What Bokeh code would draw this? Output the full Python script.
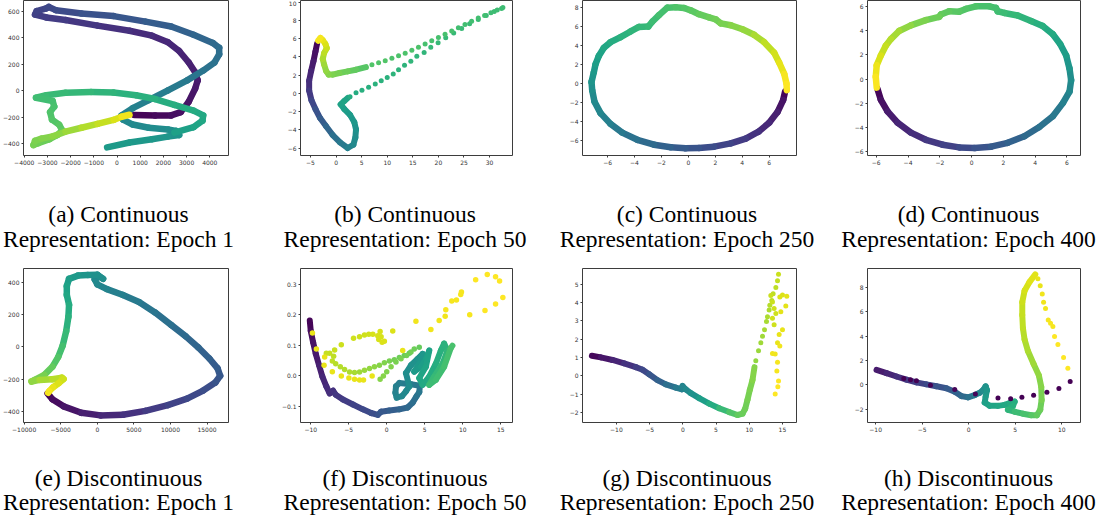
import math
from bokeh.plotting import figure
from bokeh.models import FixedTicker
from bokeh.core.properties import value
from bokeh.layouts import row, column
from bokeh.palettes import Viridis256
from bokeh.embed import file_html
from bokeh.resources import INLINE

NaN = float("nan")

# ---------------- (a) Continuous, Epoch 1 ----------------
a_x = [746, 1643, 2334, 2748, 3094, 3370, 3480, 3370, 3094, 2679, 2196, 1505, 539, -842, -2223, -3052, -3535, -3466, -3052, -2941,
       -2638, -1533, -152, 1229, 2334, 3301, 4129, 4405, 4405, 4198, 3715, 3024, 2196, 1367, 677, 193, 262, 677, 1367, 2196,
       2541, 2679, 2196, 1505, 539, -428, NaN, 2472, 3301, 3687, 3715, 3301, 2472, 1643, 815, -152, -1119, -2223, -3052, -3494,
       -2776, -2707, -2886, -2803, -2500, -2362, -2569, -2914, -3397, -3604, -3535, -3259, -2776, -2223, -1533, -842, -152, 193, 539]
a_y = [-185, -188, -188, -163, -84, 15, 77, 138, 212, 299, 365, 415, 452, 491, 533, 553, 575, 600, 622, 632,
       608, 583, 563, 521, 484, 422, 360, 323, 274, 212, 151, 77, 2, -72, -133, -188, -220, -257, -281, -294,
       -306, -336, -348, -368, -393, -430, NaN, -318, -277, -227, -188, -151, -109, -64, -35, -15, -10, -17, -35, -54,
       -79, -121, -163, -220, -257, -301, -336, -368, -398, -412, -380, -363, -346, -311, -281, -252, -222, -198, -183]
a_t = [0.0, 0.02, 0.03, 0.04, 0.05, 0.06, 0.07, 0.08, 0.09, 0.10, 0.11, 0.12, 0.13, 0.15, 0.17, 0.18, 0.19, 0.20, 0.21, 0.215,
       0.22, 0.24, 0.26, 0.28, 0.30, 0.32, 0.34, 0.35, 0.36, 0.37, 0.38, 0.40, 0.42, 0.43, 0.44, 0.45, 0.46, 0.47, 0.48, 0.49,
       0.50, 0.51, 0.52, 0.53, 0.54, 0.55, NaN, 0.56, 0.58, 0.59, 0.60, 0.61, 0.62, 0.63, 0.64, 0.65, 0.66, 0.67, 0.68, 0.69,
       0.70, 0.71, 0.72, 0.73, 0.74, 0.75, 0.76, 0.77, 0.78, 0.79, 0.80, 0.81, 0.82, 0.84, 0.87, 0.90, 0.93, 0.96, 1.0]
a_xticks = [-4000, -3000, -2000, -1000, 0, 1000, 2000, 3000, 4000]
a_xlabels = ["\u22124000", "\u22123000", "\u22122000", "\u22121000", "0", "1000", "2000", "3000", "4000"]
a_yticks = [-400, -200, 0, 200, 400, 600]
a_ylabels = ["\u2212400", "\u2212200", "0", "200", "400", "600"]

# ---------------- (b) Continuous, Epoch 50 ----------------
b_x = [-3.70, -4.03, -4.42, -4.87, -5.26, -5.26, -4.81, -4.03, -3.12, -1.95, -0.65, 0.78, 2.27, 3.38, 3.77, 3.90, 3.57, 2.73, 1.62, 0.91, 1.62, 2.27]
b_y = [5.48, 4.59, 3.52, 2.46, 1.39, 0.32, -0.75, -1.71, -2.70, -3.59, -4.56, -5.37, -5.98, -5.62, -4.84, -3.95, -3.17, -2.35, -1.71, -1.21, -0.82, -0.50]
b_t = [0.0, 0.03, 0.06, 0.09, 0.12, 0.15, 0.19, 0.23, 0.27, 0.31, 0.35, 0.39, 0.43, 0.46, 0.48, 0.50, 0.52, 0.54, 0.56, 0.57, 0.58, 0.59]
b_dx = [2.73, 3.90, 5.06, 6.36, 7.66, 8.83, 10.0, 11.17, 12.21, 13.38, 14.61, 15.78, 17.21, 18.51, 19.94, 21.43, 22.99, 24.55, 26.10, 27.79, 29.35, 30.91, 32.34,
        32.60, 31.49, 30.26, 29.03, 27.79, 26.49, 25.19, 23.90, 22.60, 21.30, 20.0, 18.70, 17.40, 16.10, 14.81, 13.51, 12.21, 10.91, 9.61, 8.31, 7.01]
b_dy = [-0.36, 0.07, 0.36, 0.68, 1.03, 1.39, 1.74, 2.14, 2.60, 3.10, 3.52, 4.06, 4.48, 5.05, 5.55, 6.09, 6.62, 7.12, 7.62, 8.11, 8.54, 8.97, 9.29,
        9.40, 9.15, 8.83, 8.54, 8.26, 7.90, 7.54, 7.19, 6.83, 6.48, 6.12, 5.77, 5.41, 5.05, 4.73, 4.41, 4.13, 3.84, 3.59, 3.35, 3.13]
b_dt = [0.62, 0.62, 0.63, 0.63, 0.64, 0.64, 0.64, 0.65, 0.65, 0.65, 0.66, 0.66, 0.66, 0.67, 0.67, 0.67, 0.67, 0.68, 0.68, 0.68, 0.68, 0.69, 0.69,
        0.69, 0.69, 0.69, 0.70, 0.70, 0.70, 0.70, 0.70, 0.71, 0.71, 0.71, 0.71, 0.71, 0.72, 0.72, 0.72, 0.72, 0.72, 0.73, 0.73, 0.73]
b2_x = [5.84, 3.90, 2.27, 0.65, -0.65, -1.43, -1.95, -2.34, -2.60, -2.34, -1.82, -2.08, -2.60, -3.05, -3.51]
b2_y = [2.88, 2.60, 2.42, 2.24, 2.06, 2.06, 2.46, 3.17, 3.77, 4.41, 4.95, 5.41, 5.84, 6.09, 5.77]
b2_t = [0.73, 0.75, 0.77, 0.79, 0.80, 0.81, 0.83, 0.85, 0.87, 0.89, 0.91, 0.93, 0.96, 0.98, 1.0]
b_xticks = [-5, 0, 5, 10, 15, 20, 25, 30]
b_xlabels = ["\u22125", "0", "5", "10", "15", "20", "25", "30"]
b_yticks = [-6, -4, -2, 0, 2, 4, 6, 8, 10]
b_ylabels = ["\u22126", "\u22124", "\u22122", "0", "2", "4", "6", "8", "10"]

# ---------------- (c) Continuous, Epoch 250 ----------------
c_x = [7.19, 7.04, 6.62, 6.0, 5.21, 4.26, 3.15, 1.91, 0.79, -0.20, -1.31, -2.55, -3.79, -4.91, -5.78, -6.52, -6.97, -7.14, -7.19, -7.02,
       -6.89, -6.65, -6.27, -5.78, -5.03, -4.29, -3.67, -2.98, -2.68, -2.18, -1.56, -0.94, -0.32, 0.17, 0.79, 1.54, 2.03, 2.41, 3.15, 4.02,
       4.88, 5.63, 6.37, 6.74, 7.12, 7.29, 7.31]
c_y = [-0.82, -1.75, -3.01, -4.14, -5.07, -5.79, -6.30, -6.64, -6.78, -6.82, -6.71, -6.44, -5.92, -5.17, -4.25, -3.12, -1.92, -0.72, 0.14, 1.16,
       2.02, 2.88, 3.73, 4.32, 4.86, 5.45, 5.92, 5.96, 6.47, 7.16, 7.95, 7.98, 7.91, 7.67, 7.26, 6.92, 6.71, 6.30, 6.10, 5.68,
       5.10, 4.32, 3.22, 2.19, 0.99, -0.03, -0.72]
c_t = [0.0, 0.03, 0.07, 0.10, 0.13, 0.16, 0.19, 0.22, 0.25, 0.27, 0.30, 0.33, 0.36, 0.39, 0.42, 0.45, 0.47, 0.49, 0.51, 0.53,
       0.55, 0.57, 0.59, 0.61, 0.63, 0.65, 0.66, 0.67, 0.68, 0.70, 0.71, 0.72, 0.73, 0.74, 0.76, 0.77, 0.78, 0.79, 0.81, 0.83,
       0.86, 0.89, 0.92, 0.95, 0.98, 1.0, 1.0]
c_xticks = [-6, -4, -2, 0, 2, 4, 6]
c_xlabels = ["\u22126", "\u22124", "\u22122", "0", "2", "4", "6"]
c_yticks = [-6, -4, -2, 0, 2, 4, 6, 8]
c_ylabels = ["\u22126", "\u22124", "\u22122", "0", "2", "4", "6", "8"]

# ---------------- (d) Continuous, Epoch 400 ----------------
d_x = [-5.92, -5.71, -5.29, -4.66, -3.82, -2.88, -1.83, -0.78, 0.17, 1.22, 2.27, 3.32, 4.26, 5.11, 5.74, 6.16, 6.26, 6.16, 5.95, 5.57,
       5.11, 4.47, 3.74, 2.90, 2.06, 1.64, 1.53, 1.11, 0.27, -0.36, -0.78, -1.41, -1.93, -2.04, -2.88, -3.82, -4.56, -5.08, -5.40, -5.71,
       -5.97, -6.03, -5.97]
d_y = [-0.81, -1.71, -2.66, -3.60, -4.42, -5.01, -5.42, -5.64, -5.69, -5.58, -5.26, -4.72, -3.96, -3.06, -1.98, -1.03, -0.08, 0.87, 1.95, 2.90,
       3.71, 4.39, 4.80, 5.26, 5.47, 5.61, 5.88, 6.02, 6.02, 5.80, 5.58, 5.61, 5.34, 5.15, 4.88, 4.44, 3.98, 3.31, 2.76, 1.95,
       1.14, 0.19, -0.70]
d_t = [0.0, 0.03, 0.06, 0.09, 0.12, 0.15, 0.18, 0.21, 0.24, 0.27, 0.30, 0.33, 0.36, 0.39, 0.42, 0.45, 0.48, 0.51, 0.54, 0.57,
       0.60, 0.62, 0.64, 0.66, 0.68, 0.69, 0.70, 0.71, 0.72, 0.73, 0.74, 0.75, 0.76, 0.77, 0.79, 0.82, 0.85, 0.88, 0.90, 0.93,
       0.96, 0.99, 1.0]
d_xticks = [-6, -4, -2, 0, 2, 4, 6]
d_xlabels = ["\u22126", "\u22124", "\u22122", "0", "2", "4", "6"]
d_yticks = [-6, -4, -2, 0, 2, 4, 6]
d_ylabels = ["\u22126", "\u22124", "\u22122", "0", "2", "4", "6"]

# ---------------- (e) Discontinuous, Epoch 1 ----------------
e_x = [-6798, -6140, -4605, -2193, 439, 3509, 6579, 9649, 12281, 14474, 16140, 16798, 16447, 15351, 13816, 12061, 10088, 7895, 5702, 3509,
       1316, 0, -351, 219, 789, 0, -1316, -2632, -3860, -4167, -4167, -3860, -3947, -4254, -4737, -5351, -6140, -7237, -8553, -8991,
       -7895, -6140, -4825, -4605, -5263, -6053, -6579, -6711]
e_y = [-289, -325, -369, -409, -425, -421, -397, -361, -321, -271, -221, -180, -134, -74, -4, 66, 136, 213, 277, 321,
       357, 387, 417, 437, 421, 447, 445, 441, 421, 377, 321, 261, 186, 96, 6, -64, -124, -174, -205, -215,
       -205, -201, -192, -200, -225, -251, -275, -285]
e_t = [0.0, 0.02, 0.04, 0.07, 0.10, 0.13, 0.16, 0.19, 0.21, 0.23, 0.25, 0.27, 0.28, 0.30, 0.32, 0.34, 0.36, 0.38, 0.40, 0.42,
       0.44, 0.46, 0.47, 0.48, 0.49, 0.50, 0.51, 0.53, 0.55, 0.57, 0.59, 0.61, 0.63, 0.66, 0.69, 0.72, 0.75, 0.78, 0.81, 0.82,
       0.85, 0.88, 0.91, 0.92, 0.94, 0.96, 0.98, 1.0]
e_xticks = [-10000, -5000, 0, 5000, 10000, 15000]
e_xlabels = ["\u221210000", "\u22125000", "0", "5000", "10000", "15000"]
e_yticks = [-400, -200, 0, 200, 400]
e_ylabels = ["\u2212400", "\u2212200", "0", "200", "400"]

# ---------------- (f) Discontinuous, Epoch 50 ----------------
f_x = [-10.13, -10.0, -9.69, -9.34, -8.91, -8.47, -7.95, -7.51, -7.07, -6.72, -5.76, -4.45, -3.14, -2.05, -1.18, -0.74, 0.35, 1.66, 2.75, 3.41,
       3.93, 4.28, 4.37, 3.19, 1.66, 1.22, 1.14, 1.31, 2.01, 2.53, 2.97, 2.53, 3.19, 4.06, 4.72, 4.28, 3.62, 4.50, 5.15, 5.59,
       5.15, 4.28, 4.72, 5.59, 6.46, 7.12, 7.55, 7.99, 7.34, 6.24, 5.59, 6.46, 7.55, 8.43, 8.65]
f_y = [0.181, 0.147, 0.110, 0.072, 0.035, -0.002, -0.034, -0.057, -0.048, -0.061, -0.077, -0.093, -0.109, -0.121, -0.127, -0.117, -0.113, -0.109, -0.103, -0.087,
       -0.066, -0.053, -0.032, -0.027, -0.023, -0.034, -0.055, -0.071, -0.066, -0.050, -0.034, 0.009, 0.035, 0.056, 0.072, 0.040, 0.014, 0.030, 0.056, 0.083,
       0.030, -0.007, -0.029, -0.002, 0.040, 0.083, 0.106, 0.083, 0.040, -0.002, -0.029, -0.013, 0.030, 0.091, 0.099]
f_t = [0.0, 0.02, 0.04, 0.06, 0.08, 0.10, 0.12, 0.13, 0.14, 0.15, 0.17, 0.19, 0.21, 0.23, 0.25, 0.27, 0.29, 0.31, 0.33, 0.35,
       0.37, 0.39, 0.40, 0.41, 0.42, 0.43, 0.44, 0.45, 0.46, 0.47, 0.48, 0.49, 0.50, 0.51, 0.52, 0.53, 0.54, 0.55, 0.56, 0.57,
       0.58, 0.59, 0.60, 0.61, 0.62, 0.63, 0.64, 0.65, 0.66, 0.67, 0.68, 0.69, 0.70, 0.71, 0.72]
f_dx = [2.97, 2.31, 1.66, 1.00, 0.35, -0.31, -0.96, -1.62, -2.27, -2.93, -3.58, -4.24, -4.89, -5.55, -6.11, -6.72, -7.16, -6.99, -7.51, -7.95, -6.86, -5.98,
        -0.87, -0.44, 0.0, 0.57, 1.22, 1.88, 2.62, 3.19, 3.62, 4.28,
        -4.37, -3.58, -2.93, -2.36, -1.83, -1.18, -0.87, -0.74, -1.05, -0.61, -0.31, 0.79,
        -9.78, -9.26, -8.17, -8.25, -7.16, -5.98, -4.98, -4.24, -3.58, -3.06, -1.92, 2.10,
        3.84, 5.81, 6.90, 7.69, 7.77, 8.56, 9.17, 9.74, 9.83, 10.92, 11.70, 12.93, 13.23, 14.32, 14.85, 14.32, 15.28]
f_dy = [0.074, 0.067, 0.060, 0.053, 0.049, 0.043, 0.035, 0.030, 0.024, 0.019, 0.013, 0.011, 0.013, 0.021, 0.030, 0.040, 0.049, 0.064, 0.074, 0.074, 0.085, 0.102,
        -0.011, 0.0, 0.014, 0.030, 0.046, 0.056, 0.067, 0.078, 0.088, 0.094,
        0.123, 0.128, 0.134, 0.136, 0.136, 0.131, 0.145, 0.128, 0.119, 0.110, 0.113, 0.147,
        0.140, 0.088, 0.062, 0.035, 0.014, 0.0, -0.007, -0.011, -0.013, -0.013, 0.0, 0.083,
        0.179, 0.152, 0.181, 0.195, 0.216, 0.245, 0.248, 0.266, 0.274, 0.200, 0.314, 0.214, 0.331, 0.324, 0.310, 0.235, 0.256]
f_dt = [0.76, 0.77, 0.78, 0.79, 0.80, 0.81, 0.82, 0.83, 0.84, 0.85, 0.86, 0.87, 0.88, 0.885, 0.89, 0.895, 0.90, 0.905, 0.91, 0.915, 0.92, 0.925,
        0.82, 0.82, 0.81, 0.81, 0.80, 0.80, 0.79, 0.79, 0.78, 0.77,
        0.93, 0.93, 0.93, 0.93, 0.94, 0.94, 0.94, 0.94, 0.94, 0.95, 0.95, 0.95,
        0.97, 0.97, 0.97, 0.97, 0.97, 0.97, 0.97, 0.97, 0.97, 0.97, 0.97, 0.97,
        0.98, 0.98, 0.98, 0.98, 0.99, 0.99, 0.99, 0.99, 0.99, 0.99, 1.0, 1.0, 1.0, 1.0, 1.0, 1.0, 1.0]
f_xticks = [-10, -5, 0, 5, 10, 15]
f_xlabels = ["\u221210", "\u22125", "0", "5", "10", "15"]
f_yticks = [-0.1, 0.0, 0.1, 0.2, 0.3]
f_ylabels = ["\u22120.1", "0.0", "0.1", "0.2", "0.3"]

# ---------------- (g) Discontinuous, Epoch 250 ----------------
g_x = [-13.70, -12.35, -10.59, -8.84, -7.08, -6.07, -5.07, -3.82, -2.56, -1.05, -0.15, -0.05, 0.45, 1.20, 2.46, 3.97, 5.47, 6.98, 8.23, 8.99,
       9.39, 9.74, 10.09, 10.49, 10.79]
g_y = [1.10, 1.01, 0.87, 0.69, 0.48, 0.34, 0.09, -0.23, -0.46, -0.64, -0.73, -0.55, -0.73, -0.94, -1.21, -1.51, -1.76, -1.97, -2.13, -2.06,
       -1.79, -1.30, -0.76, -0.23, 0.48]
g_t = [0.0, 0.04, 0.08, 0.12, 0.17, 0.20, 0.24, 0.29, 0.34, 0.39, 0.43, 0.44, 0.46, 0.49, 0.53, 0.59, 0.65, 0.71, 0.75, 0.77,
       0.78, 0.79, 0.80, 0.81, 0.83]
g_dx = [10.99, 11.40, 11.75, 12.0, 12.30, 12.60, 12.75, 13.0, 13.10, 13.40, 13.60, 14.01, 14.26, 14.41, 13.25, 13.50, 13.75, 14.01, 13.50, 13.75,
        14.61, 15.01, 15.66, 15.51, 14.76, 15.01, 14.51, 14.26, 14.61, 13.91, 13.50, 14.26, 14.16, 14.41, 14.31, 13.91]
g_dy = [0.83, 1.37, 1.81, 2.17, 2.52, 2.97, 3.23, 3.59, 3.85, 4.12, 4.48, 4.83, 5.19, 5.54, 4.39, 4.03, 3.68, 3.41, 3.14, 2.79,
        4.30, 4.42, 4.35, 3.82, 3.50, 2.52, 2.26, 1.81, 1.63, 1.19, 1.23, 0.75, 0.27, -0.28, -0.59, -0.99]
g_dt = [0.84, 0.85, 0.86, 0.86, 0.87, 0.87, 0.88, 0.88, 0.89, 0.89, 0.90, 0.90, 0.91, 0.92, 0.92, 0.92, 0.93, 0.93, 0.93, 0.93,
        0.95, 0.95, 0.96, 0.96, 0.96, 0.97, 0.97, 0.97, 0.98, 0.98, 0.98, 0.99, 0.99, 1.0, 1.0, 1.0]
g_xticks = [-10, -5, 0, 5, 10, 15]
g_xlabels = ["\u221210", "\u22125", "0", "5", "10", "15"]
g_yticks = [-2, -1, 0, 1, 2, 3, 4, 5]
g_ylabels = ["\u22122", "\u22121", "0", "1", "2", "3", "4", "5"]

# ---------------- (h) Discontinuous, Epoch 400 ----------------
h_x = [-9.91, -8.84, -7.76, -6.69, -5.62, -4.54, -3.47, -2.40, -1.50, -0.79, -0.07, 0.64, 1.18, 1.54, 1.82, 1.97, 1.82, 1.72, 2.25, 3.15,
       3.86, 4.40, 4.94, 4.76, 4.22, 4.94, 5.83, 6.73, 7.33, 7.69, 7.84, 7.80, 7.55, 6.98, 6.37, 6.01, 5.83, 5.76, 5.76, 6.01,
       6.55, 7.16]
h_y = [1.23, 0.96, 0.69, 0.43, 0.21, 0.05, -0.11, -0.27, -0.56, -0.91, -1.01, -0.83, -0.64, -0.43, -0.11, -0.43, -0.96, -1.44, -1.71, -1.71,
       -1.63, -1.49, -1.36, -1.71, -2.03, -2.19, -2.35, -2.48, -2.48, -2.03, -1.23, -0.16, 0.77, 1.71, 2.77, 3.71, 4.64, 5.71, 6.77, 7.71,
       8.43, 9.04]
h_t = [0.06, 0.09, 0.12, 0.15, 0.18, 0.21, 0.24, 0.27, 0.30, 0.33, 0.36, 0.40, 0.44, 0.48, 0.51, 0.52, 0.54, 0.56, 0.58, 0.59,
       0.60, 0.61, 0.62, 0.63, 0.64, 0.67, 0.70, 0.73, 0.75, 0.77, 0.79, 0.81, 0.83, 0.85, 0.87, 0.89, 0.90, 0.91, 0.92, 0.93,
       0.95, 0.96]
h_dx = [10.91, 9.70, 8.41, 6.98, 5.72, 4.51, 3.15, 0.72, -1.50, -4.11, -5.62, -6.26, -6.98,
        7.44, 7.69, 7.91, 8.05, 8.26, 8.55, 8.80, 9.05, 9.23, 9.59, 10.20, 10.66]
h_dy = [0.29, -0.29, -0.59, -0.85, -1.01, -1.12, -1.07, -0.75, -0.37, -0.03, 0.35, 0.43, 0.53,
        8.69, 8.11, 7.44, 6.77, 6.24, 5.31, 5.04, 4.77, 3.97, 3.31, 2.24, 1.36]
h_dt = [0.0, 0.0, 0.0, 0.0, 0.0, 0.0, 0.0, 0.01, 0.01, 0.0, 0.0, 0.0, 0.0,
        0.97, 0.97, 0.98, 0.98, 0.98, 0.99, 0.99, 0.99, 1.0, 1.0, 1.0, 1.0]
h_xticks = [-10, -5, 0, 5, 10]
h_xlabels = ["\u221210", "\u22125", "0", "5", "10"]
h_yticks = [-2, 0, 2, 4, 6, 8]
h_ylabels = ["\u22122", "0", "2", "4", "6", "8"]

# ---------------- captions ----------------
cap_top_1 = ["(a) Continuous", "(b) Continuous", "(c) Continuous", "(d) Continuous"]
cap_top_2 = ["Representation: Epoch 1", "Representation: Epoch 50", "Representation: Epoch 250", "Representation: Epoch 400"]
cap_bot_1 = ["(e) Discontinuous", "(f) Discontinuous", "(g) Discontinuous", "(h) Discontinuous"]
cap_bot_2 = ["Representation: Epoch 1", "Representation: Epoch 50", "Representation: Epoch 250", "Representation: Epoch 400"]


def vcolor(t):
    i = int(round(t * 255))
    return Viridis256[max(0, min(255, i))]


def draw_path(p, xs, ys, ts, width):
    x0, y0, x1, y1, cols = [], [], [], [], []
    for i in range(len(xs) - 1):
        vals = (xs[i], ys[i], xs[i + 1], ys[i + 1])
        if any(math.isnan(v) for v in vals):
            continue
        x0.append(xs[i]); y0.append(ys[i]); x1.append(xs[i + 1]); y1.append(ys[i + 1])
        cols.append(vcolor((ts[i] + ts[i + 1]) / 2))
    p.segment(x0=x0, y0=y0, x1=x1, y1=y1, line_color=cols, line_width=width, line_cap="round")


def draw_dots(p, xs, ys, ts, size):
    p.scatter(x=xs, y=ys, size=size, fill_color=[vcolor(t) for t in ts], line_color=None)


# layout geometry (pixels)
COLS = [(262, 22, 34), (280, 38, 30), (280, 40, 26), (278, 45, 20)]
ROWS = [(167, 0, 0), (166, 0, 0)]
FRAME = "#3d3d3d"
CAP_X = [118, 404.5, 686.5, 968]


def make_panel(k, xr, yr, xt, xl, yt, yl):
    w, L, R = COLS[k % 4]
    h, T, B = ROWS[k // 4]
    p = figure(width=w, height=h, x_range=xr, y_range=yr, output_backend="svg", toolbar_location=None,
               min_border_left=L, min_border_right=R, min_border_top=T, min_border_bottom=B,
               background_fill_color="white", border_fill_color="white")
    p.grid.visible = False
    p.outline_line_color = FRAME
    p.outline_line_width = 1
    p.xaxis.ticker = FixedTicker(ticks=xt)
    p.yaxis.ticker = FixedTicker(ticks=yt)
    p.xaxis.major_label_overrides = dict(zip(xt, xl))
    p.yaxis.major_label_overrides = dict(zip(yt, yl))
    for ax in p.axis:
        ax.axis_line_color = None
        ax.major_tick_line_color = FRAME
        ax.major_tick_out = 2
        ax.major_tick_in = 0
        ax.minor_tick_line_color = None
        ax.major_label_text_font = "DejaVu Sans"
        ax.major_label_text_font_size = "6px"
        ax.major_label_text_color = "#333333"
        ax.major_label_standoff = 2
        ax.axis_label_standoff = 0
    return p


def make_captions(height, line1, line2, base1, base2):
    p = figure(width=1100, height=height, x_range=(0, 1100), y_range=(height, 0),
               x_axis_type=None, y_axis_type=None, output_backend="svg", toolbar_location=None,
               min_border=0, outline_line_color=None, background_fill_color="white", border_fill_color="white")
    p.grid.visible = False
    for texts, base in ((line1, base1), (line2, base2)):
        p.text(x=CAP_X, y=[base] * len(texts), text=texts, text_align="center", text_baseline="alphabetic",
               text_font=value("Liberation Serif"), text_font_size=value("23.5px"), text_color="black")
    return p


pa = make_panel(0, (-4033, 4807), (-491, 681), a_xticks, a_xlabels, a_yticks, a_ylabels)
draw_path(pa, a_x, a_y, a_t, 6.5)

pb = make_panel(1, (-6.95, 34.48), (-6.80, 10.18), b_xticks, b_xlabels, b_yticks, b_ylabels)
draw_path(pb, b_x, b_y, b_t, 6)
draw_dots(pb, b_dx, b_dy, b_dt, 5)
draw_path(pb, b2_x, b2_y, b2_t, 6)

pc = make_panel(2, (-7.86, 8.03), (-7.57, 8.70), c_xticks, c_xlabels, c_yticks, c_ylabels)
draw_path(pc, c_x, c_y, c_t, 6.5)

pd = make_panel(3, (-6.55, 6.85), (-6.31, 6.50), d_xticks, d_xlabels, d_yticks, d_ylabels)
draw_path(pd, d_x, d_y, d_t, 6.5)

pe = make_panel(4, (-10088, 17939), (-469, 485), e_xticks, e_xlabels, e_yticks, e_ylabels)
draw_path(pe, e_x, e_y, e_t, 6.5)

pf = make_panel(5, (-11.35, 16.55), (-0.152, 0.351), f_xticks, f_xlabels, f_yticks, f_ylabels)
draw_path(pf, f_x, f_y, f_t, 6)
draw_dots(pf, f_dx, f_dy, f_dt, 5.5)

pg = make_panel(6, (-15.11, 17.12), (-2.54, 5.86), g_xticks, g_xlabels, g_yticks, g_ylabels)
draw_path(pg, g_x, g_y, g_t, 6)
draw_dots(pg, g_dx, g_dy, g_dt, 5)

ph = make_panel(7, (-10.88, 12.02), (-3.07, 9.52), h_xticks, h_xlabels, h_yticks, h_ylabels)
draw_path(ph, h_x, h_y, h_t, 6)
draw_dots(ph, h_dx, h_dy, h_dt, 5)

cap1 = make_captions(101, cap_top_1, cap_top_2, 46, 71)
cap2 = make_captions(81, cap_bot_1, cap_bot_2, 43, 67)

layout = column(row(pa, pb, pc, pd), cap1, row(pe, pf, pg, ph), cap2)
open("out.html", "w").write(file_html(layout, INLINE))
